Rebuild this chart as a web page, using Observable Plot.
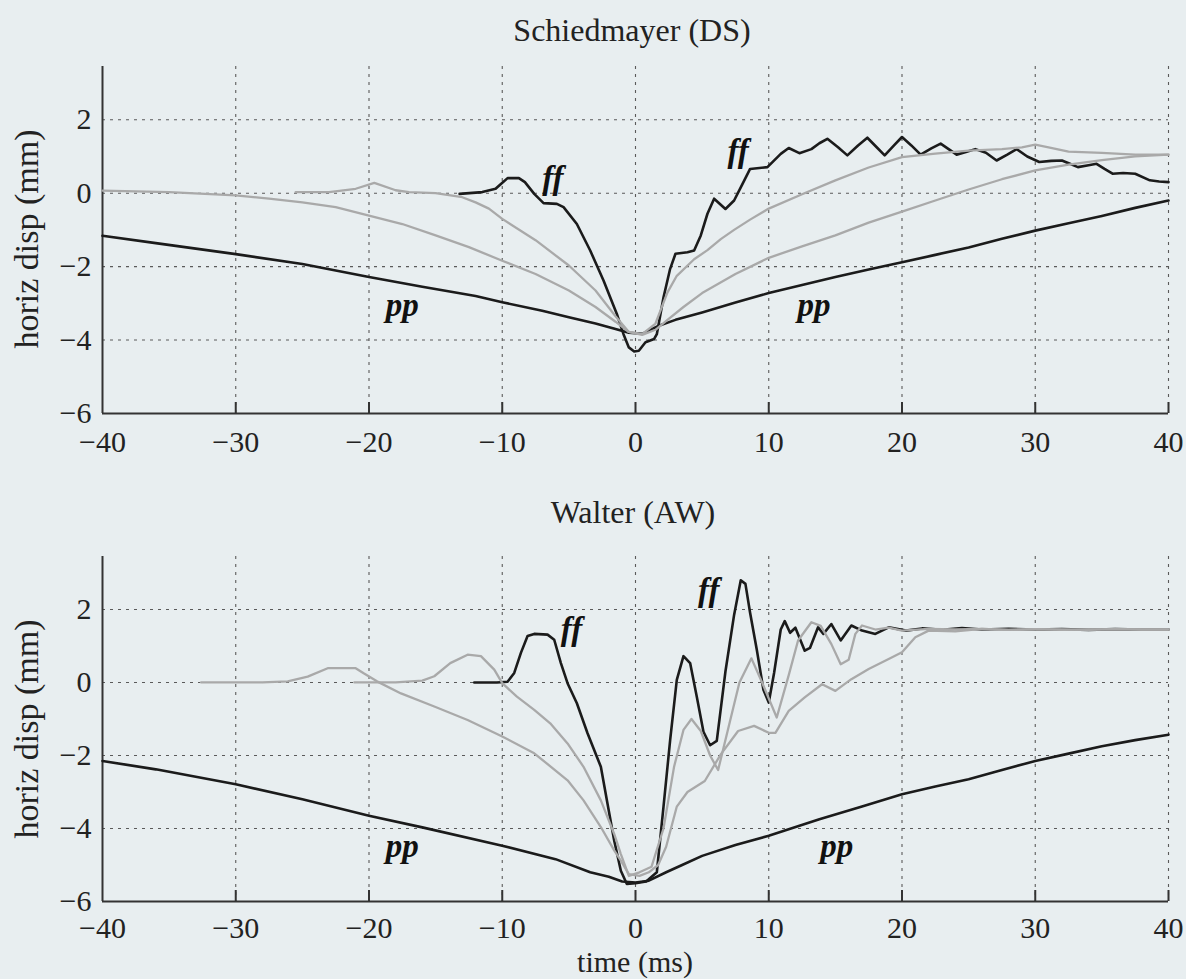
<!DOCTYPE html>
<html><head><meta charset="utf-8">
<script src="https://cdn.jsdelivr.net/npm/d3@7"></script>
<script src="https://cdn.jsdelivr.net/npm/@observablehq/plot@0.6"></script>
<style>
html,body{margin:0;padding:0;background:#e8eef0;}
#page{position:relative;width:1186px;height:979px;overflow:hidden;background:#e8eef0;font-family:"Liberation Serif","DejaVu Serif",serif;color:#222;}
.panel{position:absolute;left:0;}
.txt{position:absolute;font-size:32px;line-height:32px;white-space:nowrap;transform:translateX(-50%);}
.ylab{position:absolute;font-size:34px;line-height:34px;white-space:nowrap;transform:translate(-50%,-50%) rotate(-90deg);}
</style></head><body><div id="page">
<div id="p1" class="panel" style="top:0px"></div>
<div id="p2" class="panel" style="top:490px"></div>
<div class="txt" style="left:632px;top:14px">Schiedmayer (DS)</div>
<div class="txt" style="left:633px;top:496px">Walter (AW)</div>
<div class="txt" style="left:635px;top:947px;font-size:30px;line-height:30px">time (ms)</div>
<div class="ylab" style="left:27px;top:239px">horiz disp (mm)</div>
<div class="ylab" style="left:27px;top:729px">horiz disp (mm)</div>
</div>
<script>
// ---------- axes ----------
const xTicks = [-40, -30, -20, -10, 0, 10, 20, 30, 40];
const xGrid = [-30, -20, -10, 0, 10, 20, 30, 40];
const yTicks = [-6, -4, -2, 0, 2];
const yGrid = [-4, -2, 0, 2];
const xDomain = [-40, 40];
const yDomain = [-6, 3.45];

// ---------- Schiedmayer (DS) ----------
const dsPP_t = [-40,-36,-30,-25,-20,-16,-12,-10,-7,-5,-3,-1.5,-0.5,0.5,1.75,3,5,7.5,10,12.5,15,17.5,20,22.5,25,27.5,30,32.5,35,37.5,40];
const dsPP_v = [-1.16,-1.36,-1.66,-1.93,-2.28,-2.55,-2.8,-2.97,-3.2,-3.38,-3.55,-3.7,-3.8,-3.83,-3.61,-3.45,-3.25,-2.98,-2.72,-2.5,-2.28,-2.08,-1.88,-1.68,-1.48,-1.24,-1.02,-0.82,-0.62,-0.4,-0.2];

const dsFF_t = [-13.2,-11.5,-10.5,-10.1,-9.6,-8.75,-8.3,-7.6,-6.9,-5.9,-5.4,-4.4,-3.4,-2.4,-1.4,-0.9,-0.5,-0.1,0.25,0.75,1.4,1.6,2.1,2.6,3.0,3.9,4.4,4.9,5.4,5.9,6.75,7.4,7.9,8.6,9.9,10.9,11.5,12.3,13.2,13.8,14.4,15.2,15.9,16.7,17.4,18.1,18.7,19.4,20,20.7,21.4,22.2,22.9,23.5,24.1,24.8,25.5,26.3,27.1,27.9,28.6,29.4,30.3,31.2,32,32.6,33.2,34,34.6,35.2,35.8,36.6,37.5,38.6,39.3,40];
const dsFF_v = [-0.02,0.03,0.12,0.25,0.41,0.41,0.3,-0.02,-0.27,-0.29,-0.38,-0.84,-1.56,-2.38,-3.29,-3.84,-4.2,-4.31,-4.29,-4.06,-3.97,-3.84,-2.84,-2.06,-1.65,-1.61,-1.56,-1.15,-0.56,-0.15,-0.43,-0.2,0.16,0.66,0.71,1.07,1.23,1.09,1.2,1.36,1.48,1.25,1.03,1.3,1.51,1.25,1.03,1.3,1.53,1.3,1.05,1.22,1.35,1.2,1.05,1.12,1.2,1.1,0.89,1.05,1.2,1.0,0.85,0.88,0.89,0.8,0.71,0.76,0.8,0.66,0.53,0.55,0.53,0.35,0.32,0.3];

const dsGA_t = [-40,-35,-30,-27.5,-25,-22.5,-20,-17.5,-15,-12.5,-10,-7.5,-5,-3,-1.5,-0.5,0.5,1.5,2.4,3.6,5,7.5,10,12.5,15,17.5,20,22.5,25,27.5,30,32.5,35,37.5,40];
const dsGA_v = [0.07,0.03,-0.06,-0.15,-0.25,-0.38,-0.61,-0.84,-1.15,-1.47,-1.84,-2.2,-2.65,-3.1,-3.5,-3.78,-3.86,-3.72,-3.45,-3.1,-2.72,-2.2,-1.76,-1.45,-1.15,-0.8,-0.5,-0.2,0.1,0.38,0.62,0.78,0.9,1.0,1.05];

const dsGB_t = [-25.5,-23,-21,-19.6,-18,-17,-15,-13,-12,-11,-10,-7.5,-5,-3,-1.5,-0.5,0.5,1.5,2.4,3.1,4.4,5.4,6.4,7.4,8.6,10,12.5,15,17.5,20,22.5,25,27.5,29,30,31,32.5,35,37.5,40];
const dsGB_v = [0.03,0.03,0.12,0.28,0.08,0.03,0.0,-0.11,-0.25,-0.42,-0.7,-1.28,-1.97,-2.65,-3.35,-3.78,-3.84,-3.55,-2.7,-2.25,-1.8,-1.55,-1.25,-1.0,-0.72,-0.42,-0.03,0.35,0.7,0.98,1.08,1.16,1.2,1.25,1.32,1.25,1.13,1.1,1.05,1.05];

// ---------- Walter (AW) ----------
const awPP_t = [-40,-36,-30,-25,-20,-16,-10,-6,-3.4,-2,-1,0,1,2.3,3.5,5,7.5,10,13.8,17,20,22.5,25,27.5,30,32.5,35,37.5,40];
const awPP_v = [-2.15,-2.38,-2.79,-3.2,-3.65,-3.97,-4.47,-4.84,-5.2,-5.32,-5.45,-5.48,-5.43,-5.2,-5.0,-4.75,-4.45,-4.2,-3.75,-3.4,-3.06,-2.85,-2.65,-2.4,-2.15,-1.95,-1.75,-1.58,-1.43];

const awFF_t = [-12.1,-10.4,-9.6,-9.1,-8.6,-8.1,-7.6,-6.6,-6.1,-5.6,-5.1,-4.4,-3.6,-2.6,-2.1,-1.6,-1.1,-0.65,0,0.8,1.6,2.1,2.6,3.1,3.6,4.1,4.6,5.1,5.6,6.1,6.75,7.4,7.9,8.25,8.6,9.1,9.6,10,10.4,10.9,11.2,11.6,12,12.7,13.1,13.7,14.1,14.7,15.4,16.2,17,18,19,20.3,21.5,23,24.5,26,28,30,32,34,36,38,40];
const awFF_v = [0,0,0.02,0.26,0.81,1.27,1.33,1.31,1.17,0.53,-0.02,-0.57,-1.39,-2.31,-3.32,-4.33,-5.16,-5.52,-5.5,-5.45,-5.2,-3.41,-1.58,0.07,0.72,0.53,-0.39,-1.35,-1.72,-1.6,0.3,1.85,2.8,2.7,1.91,0.9,-0.2,-0.55,0.26,1.45,1.68,1.36,1.5,0.87,0.95,1.51,1.33,1.6,1.15,1.56,1.42,1.33,1.51,1.42,1.48,1.44,1.49,1.45,1.47,1.45,1.46,1.44,1.46,1.45,1.45];

const awGC_t = [-32.6,-28,-26.1,-24.6,-23.1,-21,-20.4,-19.4,-17.6,-15.1,-12.6,-10,-7.6,-5.1,-3.9,-2.6,-1.6,-1.1,-0.5,0.3,1,1.7,2.3,3.1,3.9,5.2,6.4,7.7,8.9,10,10.5,11.5,12.7,14,15,16.2,17.5,19,20,21,22,24,26,28,30,32,34,36,38,40];
const awGC_v = [0,0,0.03,0.16,0.39,0.39,0.25,0.03,-0.3,-0.66,-1.03,-1.48,-1.94,-2.68,-3.23,-3.96,-4.6,-4.88,-5.25,-5.3,-5.2,-5.0,-4.5,-3.4,-3.0,-2.7,-1.97,-1.33,-1.19,-1.38,-1.38,-0.78,-0.41,-0.05,-0.23,0.09,0.37,0.64,0.83,1.24,1.42,1.4,1.47,1.44,1.46,1.44,1.45,1.46,1.45,1.45];

const awGD_t = [-21.1,-18,-16,-15.1,-13.9,-12.6,-11.6,-10.6,-10,-8.9,-7.6,-6.4,-5.1,-3.9,-2.6,-1.6,-1.1,-0.5,0.3,1.2,2.1,2.9,3.6,4.2,4.9,5.6,6.2,7,7.8,8.7,9.5,10.6,11.5,12.2,13.2,13.9,14.7,15.4,16,16.5,17,18,19,20,22,24,26,28,30,32,34,36,38,40];
const awGD_v = [0,0,0.05,0.17,0.53,0.76,0.72,0.35,-0.02,-0.39,-0.75,-1.12,-1.67,-2.31,-3.23,-4.15,-4.7,-5.3,-5.2,-5.05,-4.0,-2.3,-1.3,-1.0,-1.33,-2.0,-2.4,-1.2,0.0,0.66,0.0,-0.96,0.2,1.15,1.65,1.55,1.05,0.5,0.62,1.33,1.56,1.45,1.5,1.42,1.47,1.45,1.47,1.44,1.46,1.45,1.44,1.46,1.45,1.45];

// ---------- curve labels ----------
const dsLabels = [
  {t: -6.2, v: 0.12, text: "ff"},
  {t: 7.7, v: 0.85, text: "ff"},
  {t: -17.5, v: -3.34, text: "pp"},
  {t: 13.4, v: -3.34, text: "pp"}
];
const awLabels = [
  {t: -4.8, v: 1.15, text: "ff"},
  {t: 5.5, v: 2.22, text: "ff"},
  {t: -17.5, v: -4.79, text: "pp"},
  {t: 15.1, v: -4.79, text: "pp"}
];

const BLACK = "#1b1b1b", GRAY = "#a9a9a9", GRID = "#5a5a5a";
const FONT = "Liberation Serif, DejaVu Serif, serif";
const H = 473, MT = 66;

function zip(ts, vs) { return ts.map((t, i) => ({t, v: vs[i]})); }

function panel(grays, blacks, labels, pad, MB) {
  const plotH = H - MT - MB;
  return Plot.plot({
    width: 1186, height: H,
    marginLeft: 102, marginRight: 18, marginTop: MT, marginBottom: MB,
    x: {domain: xDomain},
    y: {domain: yDomain},
    style: {fontFamily: FONT, fontSize: "30px", background: "transparent", color: "#222", overflow: "visible"},
    marks: [
      Plot.gridX(xGrid, {stroke: GRID, strokeOpacity: 1, strokeWidth: 1.1, strokeDasharray: "3,5"}),
      Plot.gridY(yGrid, {stroke: GRID, strokeOpacity: 1, strokeWidth: 1.1, strokeDasharray: "3,5"}),
      Plot.tickX(xGrid, {x: d => d, insetTop: plotH - 11, stroke: "#333", strokeWidth: 2}),
      Plot.ruleX([xDomain[0]], {stroke: "#333", strokeWidth: 2}),
      Plot.ruleY([yDomain[0]], {stroke: "#333", strokeWidth: 2}),
      ...blacks.map(s => Plot.line(zip(s[0], s[1]), {x: "t", y: "v", stroke: BLACK, strokeWidth: 2.6, strokeLinejoin: "round"})),
      ...grays.map(s => Plot.line(zip(s[0], s[1]), {x: "t", y: "v", stroke: GRAY, strokeWidth: 2.3, strokeLinejoin: "round"})),
      Plot.axisX({ticks: xTicks, tickSize: 0, tickPadding: pad, label: null, fontSize: 30, fill: "#222", fontFamily: FONT,
        tickFormat: d => d < 0 ? "\u2212" + Math.abs(d) : String(d)}),
      Plot.axisY({ticks: yTicks, tickSize: 0, tickPadding: 11, label: null, fontSize: 30, fill: "#222", fontFamily: FONT,
        tickFormat: d => d < 0 ? "\u2212" + Math.abs(d) : String(d)}),
      Plot.text(labels, {x: "t", y: "v", text: "text", fontStyle: "italic", fontSize: 33, fontWeight: 600, fontFamily: FONT,
        lineAnchor: "bottom", textAnchor: "middle", fill: "#111"})
    ]
  });
}

document.getElementById("p1").appendChild(
  panel([[dsGA_t, dsGA_v], [dsGB_t, dsGB_v]], [[dsPP_t, dsPP_v], [dsFF_t, dsFF_v]], dsLabels, 17, 60));
document.getElementById("p2").appendChild(
  panel([[awGC_t, awGC_v], [awGD_t, awGD_v]], [[awPP_t, awPP_v], [awFF_t, awFF_v]], awLabels, 15, 62));
</script>
</body></html>
